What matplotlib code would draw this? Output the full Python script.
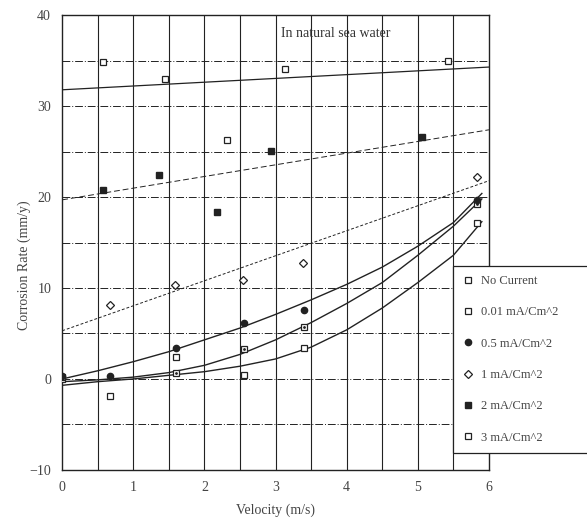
import numpy as np
import matplotlib
matplotlib.use("Agg")
import matplotlib.pyplot as plt

plt.rcParams["font.family"] = ["Liberation Serif", "DejaVu Serif"]

labels = ["No Current", "0.01 mA/Cm^2", "0.5 mA/Cm^2",
          "1 mA/Cm^2", "2 mA/Cm^2", "3 mA/Cm^2"]

# measured points
x_none = [0, 0.67, 1.6, 2.55, 3.4, 5.83]
y_none = [0, -1.9, 2.4, 0.4, 3.4, 17.2]
x_001 = [0, 1.6, 2.55, 3.4, 5.83]
y_001 = [0.2, 0.6, 3.3, 5.7, 19.2]
x_05 = [0, 0.67, 1.6, 2.55, 3.4, 5.83]
y_05 = [0.3, 0.3, 3.4, 6.2, 7.6, 19.7]
x_1 = [0.67, 1.58, 2.54, 3.39, 5.83]
y_1 = [8.1, 10.3, 10.9, 12.7, 22.2]
x_2 = [0.57, 1.36, 2.17, 2.94, 5.06]
y_2 = [20.8, 22.4, 18.4, 25.1, 26.6]
x_3 = [0.57, 1.44, 2.32, 3.13, 5.42]
y_3 = [34.9, 33.0, 26.3, 34.1, 35.0]

# fitted curves
x_curve = [0, 0.5, 1, 1.5, 2, 2.5, 3, 3.5, 4, 4.5, 5, 5.5, 5.9]
fit_05 = [0.0, 0.9, 1.9, 3.0, 4.3, 5.6, 7.1, 8.7, 10.4, 12.3, 14.6, 17.2, 20.4]
fit_001 = [-0.3, -0.1, 0.2, 0.7, 1.5, 2.7, 4.3, 6.2, 8.3, 10.6, 13.6, 16.8, 19.8]
fit_none = [-0.7, -0.3, 0.0, 0.4, 0.8, 1.4, 2.2, 3.5, 5.4, 7.8, 10.6, 13.6, 17.3]
x_line = [0, 6]
fit_1 = [5.3, 21.8]
fit_2 = [19.7, 27.4]
fit_3 = [31.8, 34.3]

fig = plt.figure(figsize=(5.87, 5.25), dpi=100)
ax = fig.add_axes([0.106, 0.105, 0.727, 0.866])

ink = "#222222"

# grid
for v in np.arange(0.5, 6.0, 0.5):
    ax.axvline(v, color=ink, lw=0.8, zorder=1)
for h in np.arange(-5, 40, 5):
    ax.axhline(h, color=ink, lw=0.7, ls=(0, (8, 2, 1, 2)), zorder=1)

# fit lines
ax.plot(x_curve, fit_05, color=ink, lw=1.0, zorder=2)
ax.plot(x_curve, fit_001, color=ink, lw=1.0, zorder=2)
ax.plot(x_curve, fit_none, color=ink, lw=1.0, zorder=2)
ax.plot(x_line, fit_1, color=ink, lw=0.7, ls=(0, (3, 2)), zorder=2)
ax.plot(x_line, fit_2, color=ink, lw=0.7, ls=(0, (6, 3)), zorder=2)
ax.plot(x_line, fit_3, color=ink, lw=0.9, zorder=2)

# data points
ms = 4.5
ax.plot(x_none, y_none, "s", mfc="white", mec=ink, mew=0.9, ms=ms,
        ls="none", label=labels[0], zorder=3)
ax.plot(x_001, y_001, "s", mfc="white", mec=ink, mew=0.9, ms=ms,
        ls="none", label=labels[1], zorder=3)
ax.plot(x_001, y_001, ".", color=ink, ms=2, ls="none", zorder=4)
ax.plot(x_05, y_05, "o", color=ink, ms=ms, ls="none", label=labels[2],
        zorder=3)
ax.plot(x_1, y_1, "D", mfc="white", mec=ink, mew=0.9, ms=3.8,
        ls="none", label=labels[3], zorder=3)
ax.plot(x_2, y_2, "s", color=ink, ms=ms, ls="none", label=labels[4],
        zorder=3)
ax.plot(x_3, y_3, "s", mfc="white", mec=ink, mew=0.9, ms=ms,
        ls="none", label=labels[5], zorder=3)

ax.set_xlim(0, 6)
ax.set_ylim(-10, 40)
ax.set_xticks(range(0, 7))
ax.set_yticks(range(-10, 41, 10))
ax.tick_params(length=0, pad=8, labelsize=10, labelcolor="#444444")
for s in ax.spines.values():
    s.set_color(ink)
    s.set_linewidth(1.0)

ax.set_xlabel("Velocity (m/s)", fontsize=10, color="#444444", labelpad=7)
ax.set_ylabel("Corrosion Rate (mm/y)", fontsize=10, color="#444444")
ax.yaxis.set_label_coords(-0.072, 0.45)

ax.text(3.07, 38.0, "In natural sea water", fontsize=10, color="#333333",
        va="center", ha="left")

# legend box runs off the right edge, as in the scan
leg = fig.legend(loc="upper left", bbox_to_anchor=(0.772, 0.143, 0.26, 0.35),
                 mode="expand", fontsize=9, labelspacing=1.55,
                 handlelength=1.0, handletextpad=0.5, borderpad=0.7,
                 fancybox=False, framealpha=1, edgecolor=ink,
                 borderaxespad=0)
for t in leg.get_texts():
    t.set_color("#444444")
leg.get_frame().set_linewidth(0.9)

fig.savefig("out.png", dpi=100)
